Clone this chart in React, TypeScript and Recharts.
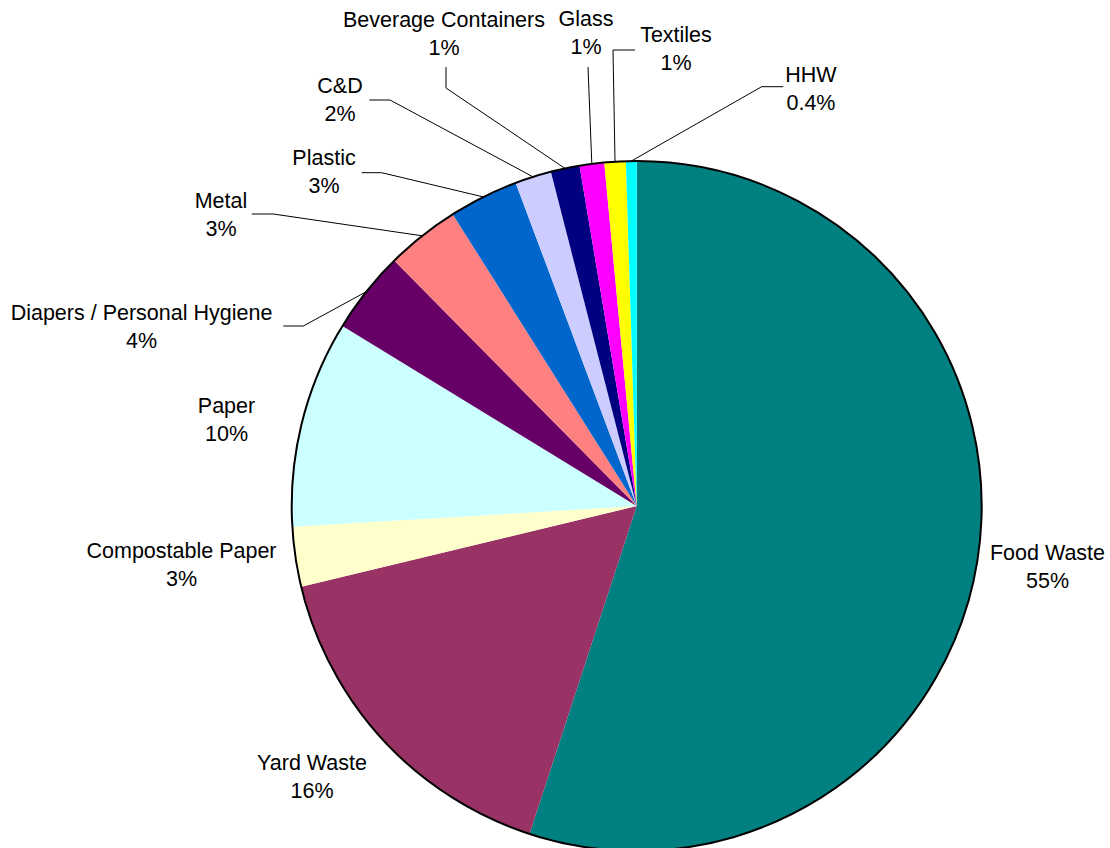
import React from 'react';
import { PieChart, Pie, Cell } from 'recharts';

// ---- Data ----
const categories = [
  'Food Waste',
  'Yard Waste',
  'Compostable Paper',
  'Paper',
  'Diapers / Personal Hygiene',
  'Metal',
  'Plastic',
  'C&D',
  'Beverage Containers',
  'Glass',
  'Textiles',
  'HHW',
];
const shares = [55.0, 16.2, 2.8, 9.7, 3.85, 3.45, 3.25, 1.7, 1.35, 1.15, 1.0, 0.5];
const percentLabels = ['55%', '16%', '3%', '10%', '4%', '3%', '3%', '2%', '1%', '1%', '1%', '0.4%'];

// ---- Styles / layout ----
const colors = [
  '#008080',
  '#993366',
  '#FFFFCC',
  '#CCFFFF',
  '#660066',
  '#FF8080',
  '#0066CC',
  '#CCCCFF',
  '#000080',
  '#FF00FF',
  '#FFFF00',
  '#00FFFF',
];

// label placement relative to pie centre (text centre x, first baseline y, leader line bend points)
const LABEL_LAYOUT: { tx: number; ty: number; line: number[][] }[] = [
  { tx: 410.8, ty: 54, line: [] },
  { tx: -324.7, ty: 264, line: [] },
  { tx: -455.2, ty: 52, line: [] },
  { tx: -410.2, ty: -93.3, line: [] },
  { tx: -495.2, ty: -186, line: [[-333.4, -180], [-353.4, -180]] },
  { tx: -415.7, ty: -297.7, line: [[-363.4, -292], [-385, -292]] },
  { tx: -312.7, ty: -341, line: [[-255, -333.3], [-275, -333.3]] },
  { tx: -296.7, ty: -413, line: [[-246.7, -406], [-267.4, -406]] },
  { tx: -192.7, ty: -479.3, line: [[-190.7, -418], [-190.7, -439]] },
  { tx: -50.7, ty: -480, line: [[-48.7, -439]] },
  { tx: 39.3, ty: -464, line: [[-23.7, -456], [-1.7, -456]] },
  { tx: 174.3, ty: -424.3, line: [[125, -419.3], [146.6, -419.3]] },
];

const FONT = '"Liberation Sans", Arial, Helvetica, sans-serif';

const data = categories.map((name, i) => ({ name, value: shares[i] }));
const outline = [{ name: 'outline', value: 1 }];

const RAD = Math.PI / 180;

const renderLabel = (props: any) => {
  const { cx, cy, midAngle, outerRadius, index } = props;
  const lay = LABEL_LAYOUT[index];
  const sx = cx + outerRadius * Math.cos(-midAngle * RAD);
  const sy = cy + outerRadius * Math.sin(-midAngle * RAD);
  const pts = [[sx, sy], ...lay.line.map(([dx, dy]) => [cx + dx, cy + dy])];
  const x = cx + lay.tx;
  const y = cy + lay.ty;
  return (
    <g key={`lbl-${index}`}>
      {lay.line.length > 0 && (
        <polyline
          points={pts.map((p) => p.join(',')).join(' ')}
          fill="none"
          stroke="#000"
          strokeWidth={1}
        />
      )}
      <text x={x} y={y} textAnchor="middle" fontFamily={FONT} fontSize={21.5} fill="#000">
        <tspan x={x} y={y}>{categories[index]}</tspan>
        <tspan x={x} y={y + 28}>{percentLabels[index]}</tspan>
      </text>
    </g>
  );
};

export default function App() {
  return (
    <div style={{ width: 1110, height: 848, background: '#fff' }}>
      <style>{'body{margin:0;}'}</style>
      <PieChart width={1110} height={848} margin={{ top: 0, right: 0, bottom: 0, left: 0 }}>
        <Pie
          data={data}
          dataKey="value"
          nameKey="name"
          cx={636.7}
          cy={506}
          outerRadius={345}
          startAngle={90}
          endAngle={-270}
          stroke="none"
          labelLine={false}
          label={renderLabel}
          isAnimationActive={false}
        >
          {data.map((d, i) => (
            <Cell key={d.name} fill={colors[i]} stroke="none" />
          ))}
        </Pie>
        <Pie
          data={outline}
          dataKey="value"
          cx={636.7}
          cy={506}
          innerRadius={345}
          outerRadius={345}
          startAngle={90}
          endAngle={-270}
          fill="none"
          stroke="#000"
          strokeWidth={2}
          label={false}
          labelLine={false}
          isAnimationActive={false}
        />
      </PieChart>
    </div>
  );
}
